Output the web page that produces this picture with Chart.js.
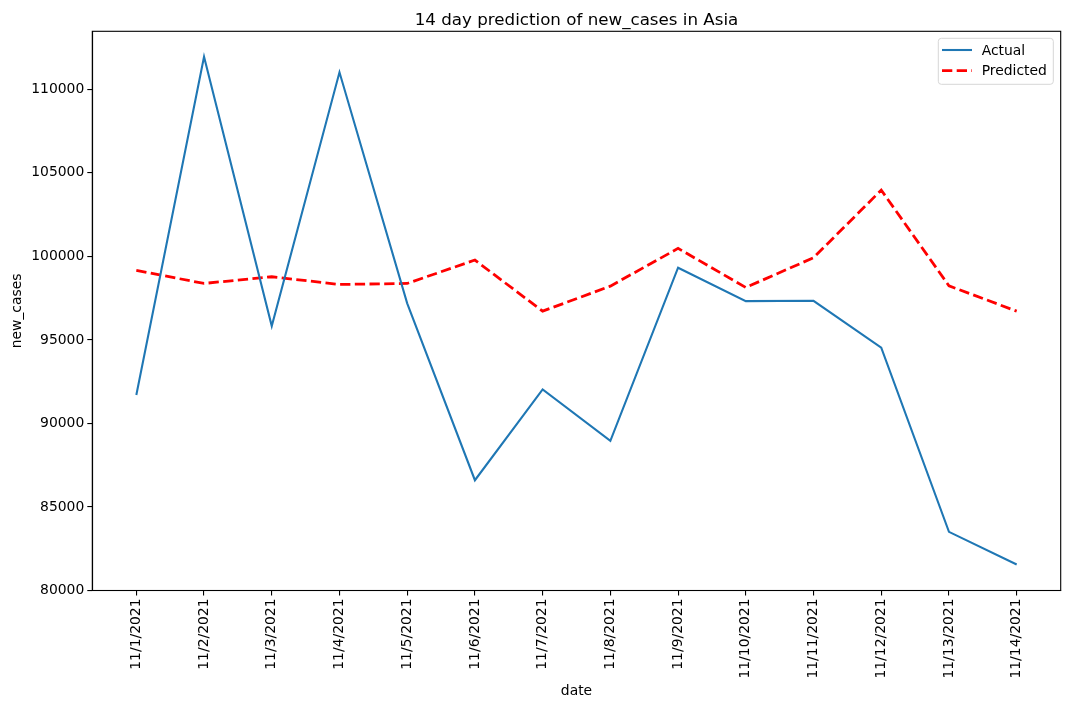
<!DOCTYPE html>
<html>
<head>
<meta charset="utf-8">
<script src="https://cdn.jsdelivr.net/npm/chart.js@4.4.1/dist/chart.umd.min.js"></script>
<style>
  body { margin: 0; background: #fff; }
  #wrap { width: 1070px; height: 709px; }
</style>
</head>
<body>
<div id="wrap"><canvas id="lineChart" width="1070" height="709"></canvas></div>
<script>
const dates = ['11/1/2021', '11/2/2021', '11/3/2021', '11/4/2021', '11/5/2021', '11/6/2021', '11/7/2021',
    '11/8/2021', '11/9/2021', '11/10/2021', '11/11/2021', '11/12/2021', '11/13/2021', '11/14/2021'];
const actualCases = [91700, 111950, 95830, 111020, 97190, 86600, 92040,
    88960, 99320, 97320, 97340, 94530, 83510, 81560];
const predictedCases = [99160, 98380, 98780, 98320, 98380, 99780, 96720,
    98220, 100480, 98140, 99920, 103970, 98240, 96720];
const yTicks = [80000, 85000, 90000, 95000, 100000, 105000, 110000];

const TITLE = '14 day prediction of new_cases in Asia';
const FONT = 'DejaVu Sans';

// matplotlib draws a frame on all four sides, and centres the title over the axes
const frame = {
    id: 'frame',
    afterDraw(chart) {
        const { ctx, chartArea: a } = chart;
        ctx.save();
        ctx.strokeStyle = '#000';
        ctx.lineWidth = 1.1;
        ctx.strokeRect(a.left, a.top, a.right - a.left, a.bottom - a.top);
        ctx.fillStyle = '#000';
        ctx.font = '16.7px "' + FONT + '"';
        ctx.textAlign = 'center';
        ctx.textBaseline = 'alphabetic';
        ctx.fillText(TITLE, (a.left + a.right) / 2, 24.6);
        ctx.restore();
    }
};

// boxed legend in the upper right corner
const legendBox = {
    id: 'legendBox',
    afterDraw(chart) {
        const { ctx, chartArea: a } = chart;
        const w = 115, h = 46;
        const x = a.right - 7.4 - w, y = a.top + 7;
        ctx.save();
        ctx.beginPath();
        ctx.roundRect(x, y, w, h, 3);
        ctx.fillStyle = 'rgba(255,255,255,0.8)';
        ctx.fill();
        ctx.strokeStyle = '#d6d6d6';
        ctx.lineWidth = 1;
        ctx.stroke();
        chart.data.datasets.forEach((ds, i) => {
            const ly = y + 11.7 + i * 20.7;
            ctx.beginPath();
            ctx.setLineDash(ds.borderDash || []);
            ctx.strokeStyle = ds.borderColor;
            ctx.lineWidth = ds.borderWidth;
            ctx.moveTo(x + 3.7, ly);
            ctx.lineTo(x + 33.7, ly);
            ctx.stroke();
            ctx.setLineDash([]);
            ctx.fillStyle = '#000';
            ctx.font = '13.9px "' + FONT + '"';
            ctx.textBaseline = 'middle';
            ctx.fillText(ds.label, x + 43.4, ly + 1);
        });
        ctx.restore();
    }
};

const ctx = document.getElementById('lineChart').getContext('2d');
const chart = new Chart(ctx, {
    type: 'line',
    data: {
        datasets: [{
            label: 'Actual',
            data: actualCases.map((v, i) => ({ x: i, y: v })),
            borderColor: '#1f77b4',
            borderWidth: 2.08,
            pointRadius: 0,
            tension: 0,
        }, {
            label: 'Predicted',
            data: predictedCases.map((v, i) => ({ x: i, y: v })),
            borderColor: '#ff0000',
            borderWidth: 2.78,
            borderDash: [10.3, 4.4],
            pointRadius: 0,
            tension: 0,
        }],
    },
    options: {
        responsive: false,
        animation: false,
        layout: { padding: { left: 0, right: 9.3, top: 31.3, bottom: 0 } },
        plugins: {
            legend: { display: false },
            tooltip: { enabled: false },
            title: { display: false },
        },
        scales: {
            x: {
                type: 'linear',
                min: -0.65,
                max: 13.65,
                afterBuildTicks: (scale) => { scale.ticks = dates.map((d, i) => ({ value: i })); },
                afterFit: (scale) => { scale.height = 118.5; },
                ticks: {
                    autoSkip: false,
                    minRotation: 90,
                    maxRotation: 90,
                    color: '#000',
                    padding: 3,
                    font: { family: FONT, size: 13.9 },
                    callback: (value) => dates[value],
                },
                grid: { drawOnChartArea: false, color: '#000', lineWidth: 1.1, tickLength: 5 },
                border: { color: '#000', width: 1.1 },
                title: {
                    display: true,
                    text: 'date',
                    color: '#000',
                    font: { family: FONT, size: 13.9 },
                    padding: { top: 0, bottom: 9.6 },
                },
            },
            y: {
                min: 80000,
                max: 113473,
                afterBuildTicks: (scale) => { scale.ticks = yTicks.map(v => ({ value: v })); },
                afterFit: (scale) => { scale.width = 92.3; },
                ticks: {
                    color: '#000',
                    padding: 3,
                    font: { family: FONT, size: 13.9 },
                    callback: (value) => String(value),
                },
                grid: { drawOnChartArea: false, color: '#000', lineWidth: 1.1, tickLength: 5 },
                border: { color: '#000', width: 1.1 },
                title: {
                    display: true,
                    text: 'new_cases',
                    color: '#000',
                    font: { family: FONT, size: 13.9 },
                    padding: { top: 8.7, bottom: 0 },
                },
            },
        },
    },
    plugins: [frame, legendBox],
});
</script>
</body>
</html>
